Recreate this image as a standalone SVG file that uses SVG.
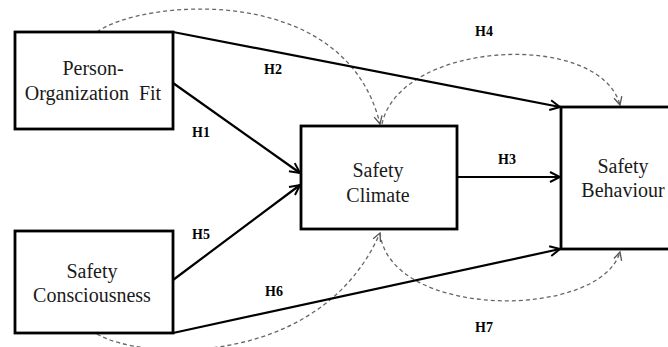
<svg xmlns="http://www.w3.org/2000/svg" width="668" height="347" viewBox="0 0 668 347">
<style>
.box{fill:#fff;stroke:#000;stroke-width:2.8}
.lbl{font-family:"Liberation Serif",serif;font-size:20px;fill:#1a1a1a;text-anchor:middle}
.h{font-family:"Liberation Serif",serif;font-size:14px;font-weight:bold;fill:#000;text-anchor:middle}
.c{stroke:#000;stroke-width:2.2;fill:none;marker-end:url(#arr)}
.d{stroke:#666;stroke-width:1.3;fill:none;stroke-dasharray:4 3;marker-end:url(#darr)}
.d0{stroke:#666;stroke-width:1.3;fill:none;stroke-dasharray:4 3}
</style>
<defs>
<marker id="arr" markerUnits="userSpaceOnUse" viewBox="-12 -7 14 14" markerWidth="14" markerHeight="14" refX="0" refY="0" orient="auto">
<path d="M-10,-5 L0,0 L-10,5" fill="none" stroke="#000" stroke-width="2"/>
</marker>
<marker id="darr" markerUnits="userSpaceOnUse" viewBox="-10 -6 12 12" markerWidth="12" markerHeight="12" refX="0" refY="0" orient="auto">
<path d="M-8,-4 L0,0 L-8,4" fill="none" stroke="#555" stroke-width="1.3"/>
</marker>
</defs>
<rect width="668" height="347" fill="#fff"/>
<g id="connectors">
<path class="d" d="M97,32 C140,0 345,-20 380,124"/>
<path class="d" d="M382,124 C400,40 600,30 620,105"/>
<path class="d" d="M97,334 C140,360 320,370 380,233"/>
<path class="d" d="M380,233 C390,320 600,320 620,252"/>
<line class="c" x1="173" y1="32" x2="560" y2="107"/>
<line class="c" x1="173" y1="83" x2="300" y2="173"/>
<line class="c" x1="173" y1="280" x2="300" y2="185"/>
<line class="c" x1="457" y1="177" x2="560" y2="177"/>
<line class="c" x1="173" y1="333" x2="560" y2="249"/>
<text class="h" x="273" y="74">H2</text>
<text class="h" x="201" y="137">H1</text>
<text class="h" x="484" y="36">H4</text>
<text class="h" x="507" y="164">H3</text>
<text class="h" x="201" y="239">H5</text>
<text class="h" x="274" y="296">H6</text>
<text class="h" x="484" y="332">H7</text>
</g>
<g id="po">
<rect class="box" x="15" y="32" width="158" height="97"/>
<text class="lbl" x="93" y="75">Person-</text>
<text class="lbl" x="93" y="100" xml:space="preserve">Organization  Fit</text>
</g>
<g id="sc">
<rect class="box" x="301" y="126" width="156" height="103"/>
<text class="lbl" x="378" y="177">Safety</text>
<text class="lbl" x="378" y="202">Climate</text>
</g>
<g id="sb">
<rect class="box" x="561" y="107" width="112" height="142"/>
<text class="lbl" x="623" y="173">Safety</text>
<text class="lbl" x="623" y="197">Behaviour</text>
</g>
<g id="scons">
<rect class="box" x="15" y="231" width="158" height="102"/>
<text class="lbl" x="92" y="278">Safety</text>
<text class="lbl" x="92" y="302">Consciousness</text>
</g>
</svg>
